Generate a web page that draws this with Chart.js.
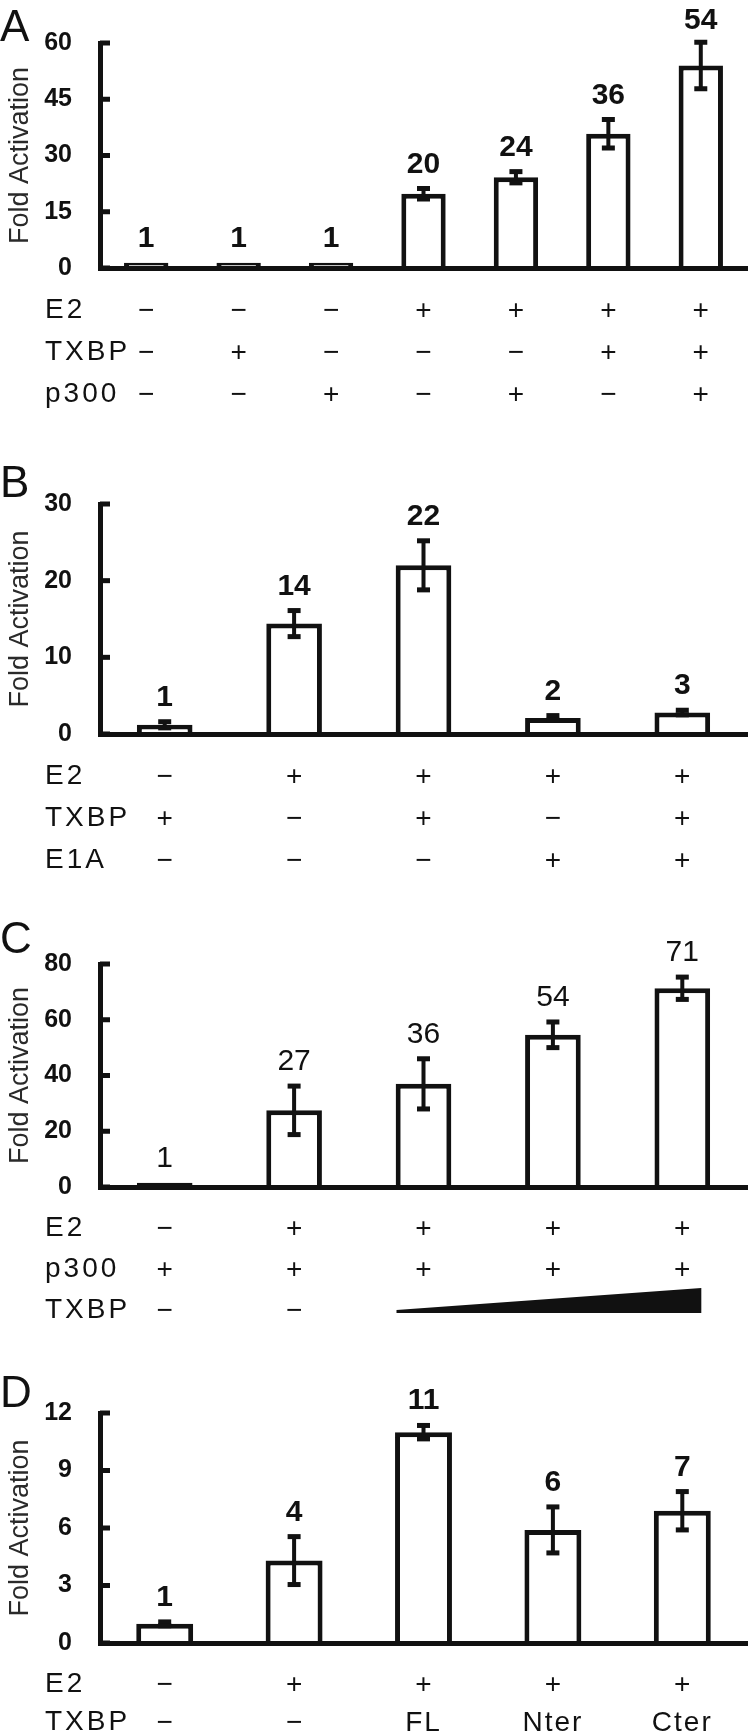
<!DOCTYPE html>
<html>
<head>
<meta charset="utf-8">
<script src="https://cdn.jsdelivr.net/npm/chart.js@4.4.1/dist/chart.umd.min.js"></script>
<style>
  body { margin: 0; background: #fff; }
  #wrap { position: relative; width: 750px; height: 1736px; }
  canvas { position: absolute; left: 0; }
</style>
</head>
<body>
<div id="wrap">
  <canvas id="panel-a" width="750" height="420" style="top:0px"></canvas>
  <canvas id="panel-b" width="750" height="445" style="top:440px"></canvas>
  <canvas id="panel-c" width="750" height="445" style="top:890px"></canvas>
  <canvas id="panel-d" width="750" height="396" style="top:1340px"></canvas>
</div>
<script>
var FONT = "'Liberation Sans', Arial, sans-serif";

// panel A
var aValues = [1.4, 1.4, 1.4, 19.8, 24.2, 35.8, 54];
var aErrors = [0, 0, 0, 1.4, 1.5, 3.8, 6.2];
var aLabels = ['1', '1', '1', '20', '24', '36', '54'];
var aE2   = ['−', '−', '−', '+', '+', '+', '+'];
var aTXBP = ['−', '+', '−', '−', '−', '+', '+'];
var aP300 = ['−', '−', '+', '−', '+', '−', '+'];

// panel B
var bValues = [1.2, 14.4, 22, 2.1, 2.8];
var bErrors = [0.4, 1.7, 3.2, 0.3, 0.3];
var bLabels = ['1', '14', '22', '2', '3'];
var bE2   = ['−', '+', '+', '+', '+'];
var bTXBP = ['+', '−', '+', '−', '+'];
var bE1A  = ['−', '−', '−', '+', '+'];

// panel C
var cValues = [1.5, 27.5, 37, 54.6, 71.3];
var cErrors = [0, 8.7, 9, 4.6, 4];
var cLabels = ['1', '27', '36', '54', '71'];
var cE2   = ['−', '+', '+', '+', '+'];
var cP300 = ['+', '+', '+', '+', '+'];
var cTXBP = ['−', '−', '', '', ''];   // increasing amounts drawn as a wedge over columns 3-5

// panel D
var dValues = [1.0, 4.3, 11.0, 5.9, 6.9];
var dErrors = [0.1, 1.25, 0.35, 1.2, 1.0];
var dLabels = ['1', '4', '11', '6', '7'];
var dE2   = ['−', '+', '+', '+', '+'];
var dTXBP = ['−', '−', 'FL', 'Nter', 'Cter'];

// y axis ranges
var aAxis = { max: 60, step: 15 };
var bAxis = { max: 30, step: 10 };
var cAxis = { max: 80, step: 20 };
var dAxis = { max: 12, step: 3 };

function panelExtras(cfg) {
  return {
    id: 'panelExtras',
    afterDatasetsDraw: function(chart) {
      var ctx = chart.ctx;
      var xs = chart.scales.x;
      var ys = chart.scales.y;
      var values = chart.data.datasets[0].data;
      var area = chart.chartArea;

      ctx.save();
      ctx.fillStyle = '#111';

      // error bars + value labels
      for (var i = 0; i < values.length; i++) {
        var cx = xs.getPixelForValue(i);
        var err = cfg.errors[i];
        var top = ys.getPixelForValue(values[i] + err);
        if (err > 0) {
          var bottom = ys.getPixelForValue(values[i] - err);
          ctx.fillRect(cx - 2, top, 4, bottom - top);
          ctx.fillRect(cx - 6.5, top - 2.5, 13, 5);
          ctx.fillRect(cx - 6.5, bottom - 2.5, 13, 5);
        }
        ctx.font = cfg.labelWeight + ' 30px ' + FONT;
        ctx.textAlign = 'center';
        ctx.textBaseline = 'alphabetic';
        ctx.fillText(cfg.labels[i], cx, Math.max(top - 16, 29));
      }

      // condition rows under the axis
      cfg.rows.forEach(function(row, r) {
        var ry = area.bottom + cfg.rowOffsets[r];
        ctx.textBaseline = 'middle';
        ctx.textAlign = 'left';
        ctx.font = '28px ' + FONT;
        ctx.letterSpacing = '3px';
        ctx.fillText(row.name, 45, ry);
        ctx.textAlign = 'center';
        row.marks.forEach(function(m, i) {
          if (!m) return;
          ctx.letterSpacing = m.length > 1 ? '2px' : '0px';
          ctx.font = '28px ' + FONT;
          ctx.fillText(m, xs.getPixelForValue(i), ry + 1);
        });
        ctx.letterSpacing = '0px';
      });

      // wedge for increasing TXBP
      if (cfg.wedge) {
        var wy = area.bottom + cfg.rowOffsets[cfg.wedge.row];
        var x1 = xs.getPixelForValue(cfg.wedge.from) - 27;
        var x2 = xs.getPixelForValue(cfg.wedge.to) + 19;
        ctx.beginPath();
        ctx.moveTo(x1, wy + 3);
        ctx.lineTo(x1, wy);
        ctx.lineTo(x2, wy - 22);
        ctx.lineTo(x2, wy + 3);
        ctx.closePath();
        ctx.fill();
      }

      // panel letter
      ctx.textAlign = 'left';
      ctx.textBaseline = 'alphabetic';
      ctx.font = '44px ' + FONT;
      ctx.fillText(cfg.letter, 0, area.top + cfg.letterDy);
      ctx.restore();
    },
    afterDraw: function(chart) {
      // tick marks point into the plot
      var ctx = chart.ctx;
      var ys = chart.scales.y;
      ctx.save();
      ctx.fillStyle = '#111';
      ys.ticks.forEach(function(t) {
        var py = ys.getPixelForValue(t.value);
        ctx.fillRect(chart.chartArea.left, py - 2.5, 10, 5);
      });
      ctx.restore();
    }
  };
}

function printPanel(selector, values, axis, barPct, padTop, below, extras) {
  var categories = values.map(function(v, i) { return 'col' + (i + 1); });
  return new Chart(document.getElementById(selector), {
    type: 'bar',
    data: {
      labels: categories,
      datasets: [{
        data: values,
        backgroundColor: '#fff',
        borderColor: '#111',
        borderWidth: 5,
        barPercentage: barPct,
        categoryPercentage: 1
      }]
    },
    options: {
      responsive: false,
      animation: false,
      events: [],
      layout: { padding: { top: padTop, right: 3, left: 0, bottom: 0 } },
      plugins: { legend: { display: false }, tooltip: { enabled: false } },
      scales: {
        x: {
          grid: { display: false, drawTicks: false },
          ticks: { display: false },
          border: { color: '#111', width: 5, z: 1 },
          afterFit: function(s) { s.height = below; }
        },
        y: {
          min: 0,
          max: axis.max,
          ticks: { stepSize: axis.step, padding: 28, color: '#111', font: { family: FONT, size: 25, weight: 'bold' } },
          grid: { display: false, drawTicks: false },
          border: { color: '#111', width: 5, z: 1 },
          title: { display: true, text: 'Fold Activation', color: '#2a2a2a', font: { family: FONT, size: 27 }, padding: { top: 4, bottom: 0 } },
          afterFit: function(s) { s.width = 100; }
        }
      }
    },
    plugins: [panelExtras(extras)]
  });
}

printPanel('panel-a', aValues, aAxis, 0.48, 35, 152, {
  letter: 'A', letterDy: -2, errors: aErrors, labels: aLabels, labelWeight: 'bold',
  rowOffsets: [42, 84, 126],
  rows: [{ name: 'E2', marks: aE2 }, { name: 'TXBP', marks: aTXBP }, { name: 'p300', marks: aP300 }]
});

printPanel('panel-b', bValues, bAxis, 0.43, 64, 151, {
  letter: 'B', letterDy: -7, errors: bErrors, labels: bLabels, labelWeight: 'bold',
  rowOffsets: [42, 84, 126],
  rows: [{ name: 'E2', marks: bE2 }, { name: 'TXBP', marks: bTXBP }, { name: 'E1A', marks: bE1A }]
});

printPanel('panel-c', cValues, cAxis, 0.43, 74, 148, {
  letter: 'C', letterDy: -11, errors: cErrors, labels: cLabels, labelWeight: 'normal',
  rowOffsets: [41, 82, 123],
  rows: [{ name: 'E2', marks: cE2 }, { name: 'p300', marks: cP300 }, { name: 'TXBP', marks: cTXBP }],
  wedge: { row: 2, from: 2, to: 4 }
});

printPanel('panel-d', dValues, dAxis, 0.44, 73, 93, {
  letter: 'D', letterDy: -6, errors: dErrors, labels: dLabels, labelWeight: 'bold',
  rowOffsets: [41, 79],
  rows: [{ name: 'E2', marks: dE2 }, { name: 'TXBP', marks: dTXBP }]
});
</script>
</body>
</html>
